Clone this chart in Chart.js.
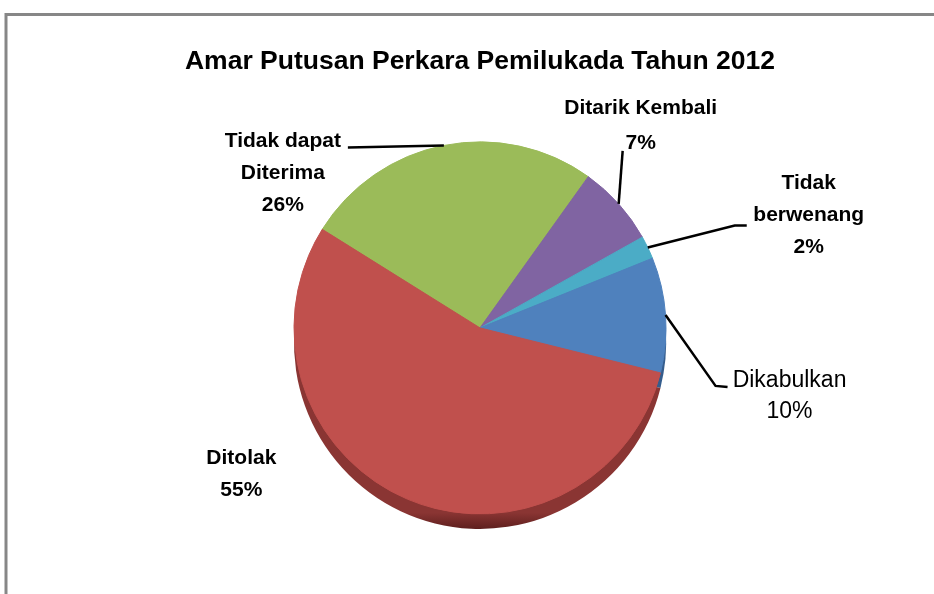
<!DOCTYPE html>
<html>
<head>
<meta charset="utf-8">
<script src="https://cdn.jsdelivr.net/npm/chart.js@4/dist/chart.umd.min.js"></script>
<style>
  html, body { margin: 0; padding: 0; background: #ffffff; }
  #wrap { width: 934px; height: 594px; position: relative; }
</style>
</head>
<body>
<div id="wrap"><canvas id="c" width="934" height="594"></canvas></div>
<script>
// ---- data ----
const chartTitle = 'Amar Putusan Perkara Pemilukada Tahun 2012';
const categories = ['Tidak dapat Diterima', 'Ditarik Kembali', 'Tidak berwenang', 'Dikabulkan', 'Ditolak'];
const labelLines = [['Tidak dapat', 'Diterima'], ['Ditarik Kembali'], ['Tidak', 'berwenang'], ['Dikabulkan'], ['Ditolak']];
const percentValues = [26, 7, 2, 10, 55];

// ---- styles ----
const sliceColors = ['#9BBB59', '#8064A2', '#4BACC6', '#4F81BD', '#C0504D'];
const sliceDark   = ['#6f8a3c', '#5a4677', '#2f8197', '#355d8d', '#8a3533'];
const FONT = "'Liberation Sans', Arial, sans-serif";

// label layout relative to each slice's outer mid-arc point
const labelLayout = [
  { bold: true,  size: 21, leader: [[-96, 2]],             text: [-161, -4], lineGap: 32 },
  { bold: true,  size: 21, leader: [[4, -53]],             text: [22, -96],  lineGap: 35 },
  { bold: true,  size: 21, leader: [[87, -22], [99, -22]], text: [161, -64], lineGap: 32 },
  { bold: false, size: 23, leader: [[50, 71], [62, 72]],   text: [124, 66],  lineGap: 31 },
  { bold: true,  size: 21, leader: [],                     text: [-166, -41], lineGap: 32 }
];

const framePlugin = {
  id: 'frame',
  beforeDraw(chart) {
    const ctx = chart.ctx;
    ctx.save();
    ctx.fillStyle = '#ffffff';
    ctx.fillRect(0, 0, chart.width, chart.height);
    ctx.strokeStyle = '#878787';
    ctx.lineWidth = 3;
    ctx.beginPath();
    ctx.moveTo(chart.width, 14.5);
    ctx.lineTo(6, 14.5);
    ctx.lineTo(6, chart.height);
    ctx.stroke();
    ctx.restore();
  }
};

const rimPlugin = {
  id: 'rim',
  beforeDatasetsDraw(chart) {
    const ctx = chart.ctx;
    const meta = chart.getDatasetMeta(0);
    ctx.save();
    meta.data.forEach((arc, i) => {
      const p = arc.getProps(['x', 'y', 'startAngle', 'endAngle', 'outerRadius'], true);
      const dy = 15;
      const g = ctx.createLinearGradient(0, p.y, 0, p.y + p.outerRadius + dy);
      g.addColorStop(0, sliceDark[i]);
      g.addColorStop(0.92, sliceDark[i]);
      g.addColorStop(1, '#5e1f1e');
      ctx.fillStyle = g;
      ctx.beginPath();
      ctx.moveTo(p.x, p.y + dy);
      ctx.arc(p.x, p.y + dy, p.outerRadius, p.startAngle, p.endAngle);
      ctx.closePath();
      ctx.fill();
    });
    ctx.restore();
  }
};

const labelPlugin = {
  id: 'sliceLabels',
  afterDatasetsDraw(chart) {
    const ctx = chart.ctx;
    const meta = chart.getDatasetMeta(0);
    const data = chart.data.datasets[0].data;
    const total = data.reduce((a, b) => a + b, 0);
    ctx.save();
    meta.data.forEach((arc, i) => {
      const p = arc.getProps(['x', 'y', 'startAngle', 'endAngle', 'outerRadius'], true);
      const mid = (p.startAngle + p.endAngle) / 2;
      const ax = p.x + Math.cos(mid) * p.outerRadius;
      const ay = p.y + Math.sin(mid) * p.outerRadius;
      const L = labelLayout[i];
      if (L.leader.length) {
        ctx.strokeStyle = '#000000';
        ctx.lineWidth = 2.5;
        ctx.lineJoin = 'miter';
        ctx.beginPath();
        ctx.moveTo(ax, ay);
        L.leader.forEach(o => ctx.lineTo(ax + o[0], ay + o[1]));
        ctx.stroke();
      }
      const lines = labelLines[i].concat([Math.round(data[i] / total * 100) + '%']);
      ctx.fillStyle = '#000000';
      ctx.textAlign = 'center';
      ctx.textBaseline = 'middle';
      ctx.font = (L.bold ? 'bold ' : '') + L.size + 'px ' + FONT;
      lines.forEach((t, k) => {
        ctx.fillText(t, ax + L.text[0], ay + L.text[1] + k * L.lineGap);
      });
    });
    ctx.restore();
  }
};

new Chart(document.getElementById('c'), {
  type: 'pie',
  data: {
    labels: categories,
    datasets: [{
      data: percentValues,
      backgroundColor: sliceColors,
      borderColor: sliceColors,
      borderWidth: 1,
      hoverOffset: 0
    }]
  },
  options: {
    responsive: false,
    animation: false,
    rotation: -58,
    radius: 186,
    layout: { padding: { top: 0, bottom: 80, left: 26, right: 0 } },
    plugins: {
      legend: { display: false },
      tooltip: { enabled: false },
      title: {
        display: true,
        text: chartTitle,
        color: '#000000',
        font: { family: FONT, size: 26.5, weight: 'bold', lineHeight: 1.2 },
        padding: { top: 46, bottom: 64 }
      }
    }
  },
  plugins: [framePlugin, rimPlugin, labelPlugin]
});
</script>
</body>
</html>
